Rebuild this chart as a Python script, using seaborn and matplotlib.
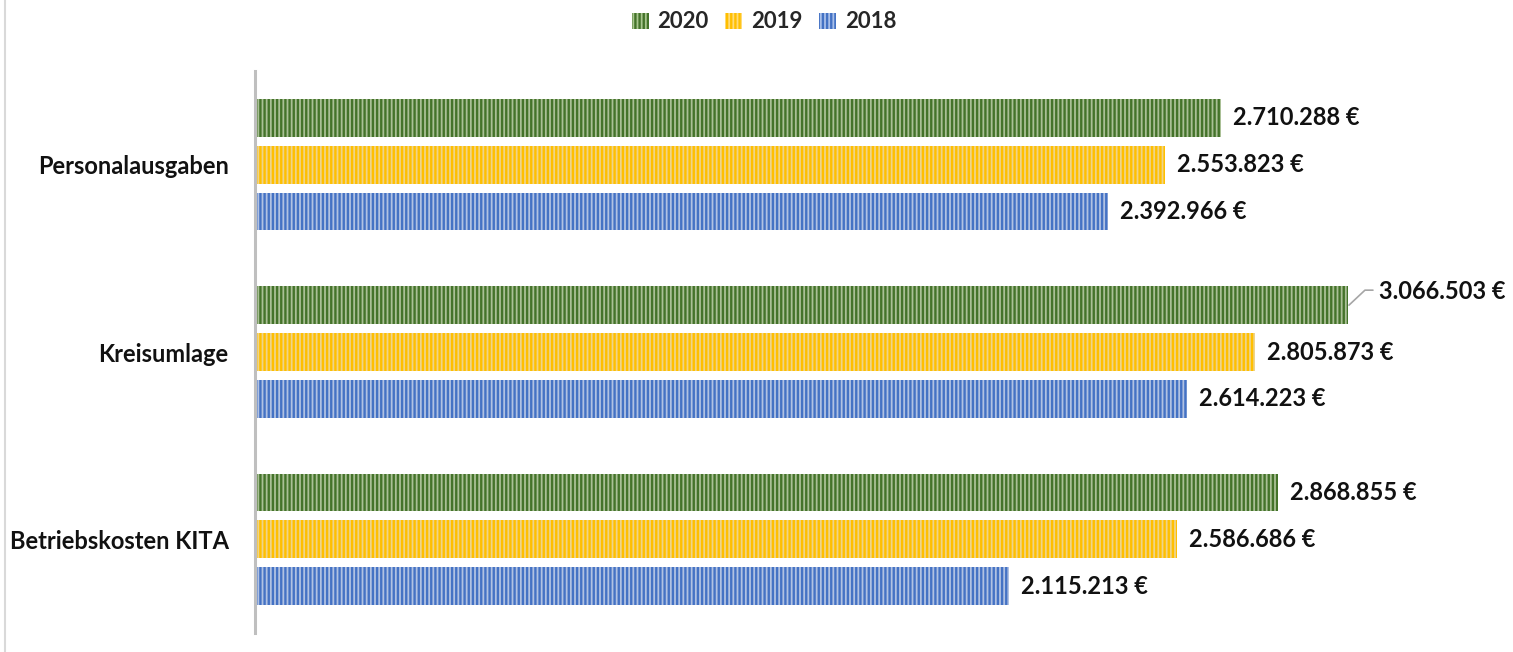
import matplotlib
matplotlib.use("Agg")
import matplotlib.pyplot as plt
import seaborn as sns
import pandas as pd
from matplotlib.patches import Patch
from matplotlib.lines import Line2D

categories = ["Personalausgaben", "Kreisumlage", "Betriebskosten KITA"]
years = ["2020", "2019", "2018"]
values_2020 = [2710288, 3066503, 2868855]
values_2019 = [2553823, 2805873, 2586686]
values_2018 = [2392966, 2614223, 2115213]

series = {"2020": values_2020, "2019": values_2019, "2018": values_2018}
rows = []
for y in years:
    for c, v in zip(categories, series[y]):
        rows.append({"Kategorie": c, "Jahr": y, "Wert": v})
df = pd.DataFrame(rows)

hatch_colors = {"2020": "#44732a", "2019": "#ffbf00", "2018": "#4472c4"}
face_colors = {"2020": "#a9c78f", "2019": "#ffdc7a", "2018": "#a9c0ea"}

sns.set_theme(style="white")
plt.rcParams["font.family"] = ["Lato", "DejaVu Sans"]
plt.rcParams["hatch.linewidth"] = 1.7

fig = plt.figure(figsize=(15.13, 6.52), dpi=100)
W, H = 1513, 652
ax = fig.add_axes([255 / W, 19 / H, 1200 / W, 562 / H])

sns.barplot(data=df, y="Kategorie", x="Wert", hue="Jahr", hue_order=years,
            order=categories, orient="h", width=0.75, gap=0.19,
            palette=face_colors, ax=ax, legend=False, errorbar=None,
            linewidth=0)

for container, y in zip(ax.containers, years):
    for bar in container:
        bar.set_hatch("||||")
        bar.set_edgecolor(hatch_colors[y])
        bar.set_linewidth(0)

px_per_unit = 966 / 2710288
xmax = 1200 / px_per_unit
ax.set_xlim(0, xmax)
ax.set_ylim(2.5, -0.5)

FS = 17

def fmt(v):
    return f"{v:,}".replace(",", ".") + " €"

for container, y in zip(ax.containers, years):
    for bar, c, v in zip(container, categories, series[y]):
        yc = bar.get_y() + bar.get_height() / 2
        if y == "2020" and c == "Kreisumlage":
            ax.annotate(fmt(v), xy=(v, yc), xycoords="data",
                        xytext=(31, 14), textcoords="offset pixels",
                        ha="left", va="center", fontsize=FS, fontweight="bold",
                        color="#111111")
            ax.add_line(Line2D([v + 1 / px_per_unit, v + 17 / px_per_unit, v + 25 / px_per_unit],
                               [yc, yc - 15 / 187.3, yc - 15 / 187.3],
                               color="#a6a6a6", lw=1.2))
        else:
            ax.annotate(fmt(v), xy=(v, yc), xycoords="data",
                        xytext=(12, 0), textcoords="offset pixels",
                        ha="left", va="center", fontsize=FS, fontweight="bold",
                        color="#111111")

ax.set_xlabel("")
ax.set_ylabel("")
ax.set_xticks([])
ax.tick_params(axis="y", length=0, pad=19, labelsize=FS)
for lab in ax.get_yticklabels():
    lab.set_fontweight("bold")
    lab.set_color("#111111")
for s in ["top", "right", "bottom"]:
    ax.spines[s].set_visible(False)
ax.spines["left"].set_color("#bfbfbf")
ax.spines["left"].set_linewidth(2.2)

handles = [Patch(facecolor=face_colors[y], edgecolor=hatch_colors[y], hatch="||||",
                 linewidth=0, label=y) for y in years]
fig.legend(handles=handles, loc="center", bbox_to_anchor=(0.505, 1 - 22 / H),
           ncol=3, frameon=False, handlelength=0.75, handleheight=0.75,
           handletextpad=0.4, columnspacing=0.75,
           prop={"size": 16, "weight": "bold", "family": ["Lato", "DejaVu Sans"]})

fig.add_artist(Line2D([5 / W, 5 / W], [0, 1], transform=fig.transFigure,
                      color="#d9d9d9", lw=1.5))

fig.savefig("out.png", dpi=100)
